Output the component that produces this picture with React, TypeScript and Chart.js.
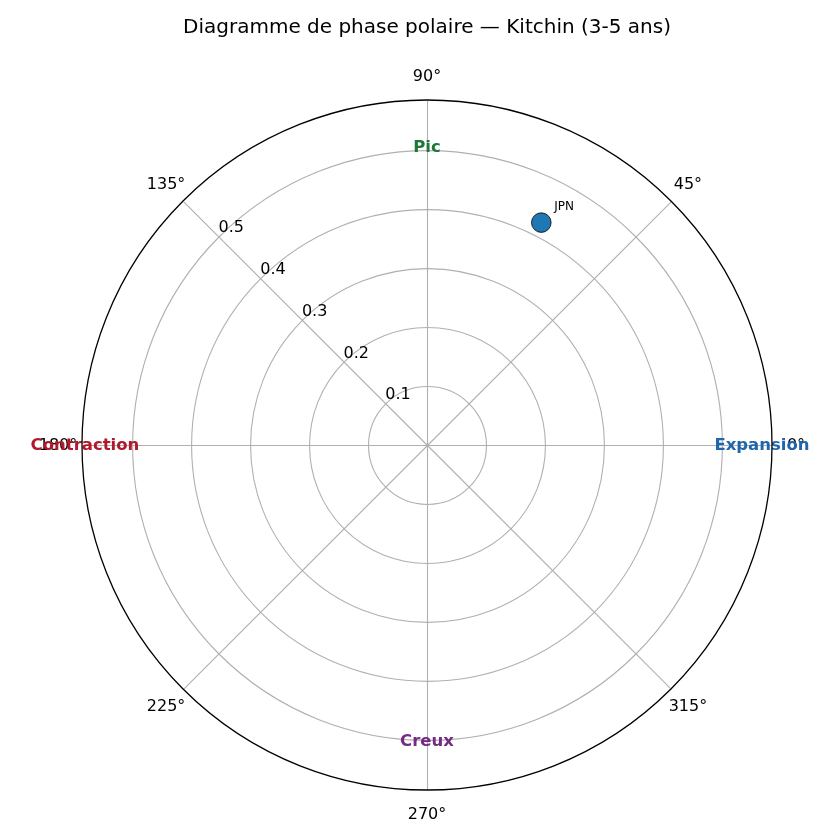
import React, { useEffect, useRef } from "react";
import { Chart, registerables } from "chart.js";

Chart.register(...registerables);

const TITLE = "Diagramme de phase polaire — Kitchin (3-5 ans)";
const R_MAX = 0.585;
const R_TICKS = [0.1, 0.2, 0.3, 0.4, 0.5];
const R_TICK_LABELS = ["0.1", "0.2", "0.3", "0.4", "0.5"];
const ANGLE_TICKS = [0, 45, 90, 135, 180, 225, 270, 315];
const ANGLE_TICK_LABELS = ["0°", "45°", "90°", "135°", "180°", "225°", "270°", "315°"];
const RLABEL_ANGLE = 135;

const PHASE_NAMES = ["Expansion", "Pic", "Contraction", "Creux"];
const PHASE_ANGLES = [0, 90, 180, 270];
const PHASE_RADII = [0.568, 0.505, 0.58, 0.502];
const PHASE_COLORS = ["#2166ac", "#1b7837", "#b2182b", "#762a83"];

const COUNTRIES = ["JPN"];
const COUNTRY_R = [0.424];
const COUNTRY_THETA = [62.8];

const FONT = "'DejaVu Sans', sans-serif";

const toXY = (r: number, deg: number) => {
  const a = (deg * Math.PI) / 180;
  return { x: r * Math.cos(a), y: r * Math.sin(a) };
};

const polarPlugin = {
  id: "polarGrid",
  beforeDatasetsDraw(chart: any) {
    const { ctx, scales } = chart;
    const xs = scales.x;
    const ys = scales.y;
    const px = (r: number, deg: number) => {
      const p = toXY(r, deg);
      return [xs.getPixelForValue(p.x), ys.getPixelForValue(p.y)];
    };
    const cx = xs.getPixelForValue(0);
    const cy = ys.getPixelForValue(0);
    const unit = xs.getPixelForValue(1) - cx;
    ctx.save();
    // title
    ctx.fillStyle = "#000";
    ctx.font = `20px ${FONT}`;
    ctx.textAlign = "center";
    ctx.textBaseline = "middle";
    ctx.fillText(TITLE, 427, 28);
    // grid circles
    ctx.save();
    ctx.translate(0.5, 0.5);
    ctx.strokeStyle = "#b0b0b0";
    ctx.lineWidth = 1.1;
    R_TICKS.forEach((r) => {
      ctx.beginPath();
      ctx.arc(cx, cy, r * unit, 0, Math.PI * 2);
      ctx.stroke();
    });
    // radial lines
    ANGLE_TICKS.forEach((a) => {
      const [x, y] = px(R_MAX, a);
      ctx.beginPath();
      ctx.moveTo(cx, cy);
      ctx.lineTo(x, y);
      ctx.stroke();
    });
    ctx.restore();
    // angle labels
    ctx.fillStyle = "#000";
    ctx.font = `16px ${FONT}`;
    ctx.textAlign = "center";
    ctx.textBaseline = "middle";
    ANGLE_TICKS.forEach((a, i) => {
      const [x, y] = px(R_MAX + 24 / unit, a);
      ctx.fillText(ANGLE_TICK_LABELS[i], x, y + 1);
    });
    // radial labels
    ctx.textAlign = "left";
    ctx.textBaseline = "alphabetic";
    R_TICKS.forEach((r, i) => {
      const [x, y] = px(r, RLABEL_ANGLE);
      ctx.fillText(R_TICK_LABELS[i], x, y - 4);
    });
    // phase labels
    ctx.font = `bold 16.5px ${FONT}`;
    ctx.textAlign = "center";
    ctx.textBaseline = "middle";
    PHASE_NAMES.forEach((n, i) => {
      const [x, y] = px(PHASE_RADII[i], PHASE_ANGLES[i]);
      ctx.fillStyle = PHASE_COLORS[i];
      ctx.fillText(n, x, y + 1);
    });
    // spine
    ctx.strokeStyle = "#000";
    ctx.lineWidth = 1.3;
    ctx.beginPath();
    ctx.arc(cx, cy, R_MAX * unit, 0, Math.PI * 2);
    ctx.stroke();
    ctx.restore();
  },
  afterDatasetsDraw(chart: any) {
    const { ctx, scales } = chart;
    ctx.save();
    ctx.fillStyle = "#000";
    ctx.font = `12px ${FONT}`;
    ctx.textAlign = "left";
    ctx.textBaseline = "alphabetic";
    COUNTRIES.forEach((c, i) => {
      const p = toXY(COUNTRY_R[i], COUNTRY_THETA[i]);
      const x = scales.x.getPixelForValue(p.x);
      const y = scales.y.getPixelForValue(p.y);
      ctx.fillText(c, x + 13, y - 13);
    });
    ctx.restore();
  },
};

export default function App() {
  const ref = useRef<HTMLCanvasElement | null>(null);
  useEffect(() => {
    document.body.style.margin = "0";
    if (!ref.current) return;
    const chart = new Chart(ref.current, {
      type: "scatter",
      data: {
        datasets: [
          {
            label: "Pays",
            data: COUNTRIES.map((_, i) => toXY(COUNTRY_R[i], COUNTRY_THETA[i])),
            backgroundColor: "#1f77b4",
            borderColor: "#000",
            borderWidth: 0.8,
            pointRadius: 9.8,
            pointHoverRadius: 9.8,
          },
        ],
      },
      options: {
        responsive: false,
        animation: false,
        devicePixelRatio: 1,
        layout: { padding: { left: 82, right: 68, top: 100, bottom: 50 } },
        scales: {
          x: { type: "linear", min: -R_MAX, max: R_MAX, display: false },
          y: { type: "linear", min: -R_MAX, max: R_MAX, display: false },
        },
        plugins: {
          legend: { display: false },
          title: { display: false },
          tooltip: { enabled: false },
        },
      },
      plugins: [polarPlugin],
    });
    return () => chart.destroy();
  }, []);
  return (
    <div style={{ width: 840, height: 840, background: "#fff" }}>
      <canvas ref={ref} width={840} height={840} />
    </div>
  );
}
